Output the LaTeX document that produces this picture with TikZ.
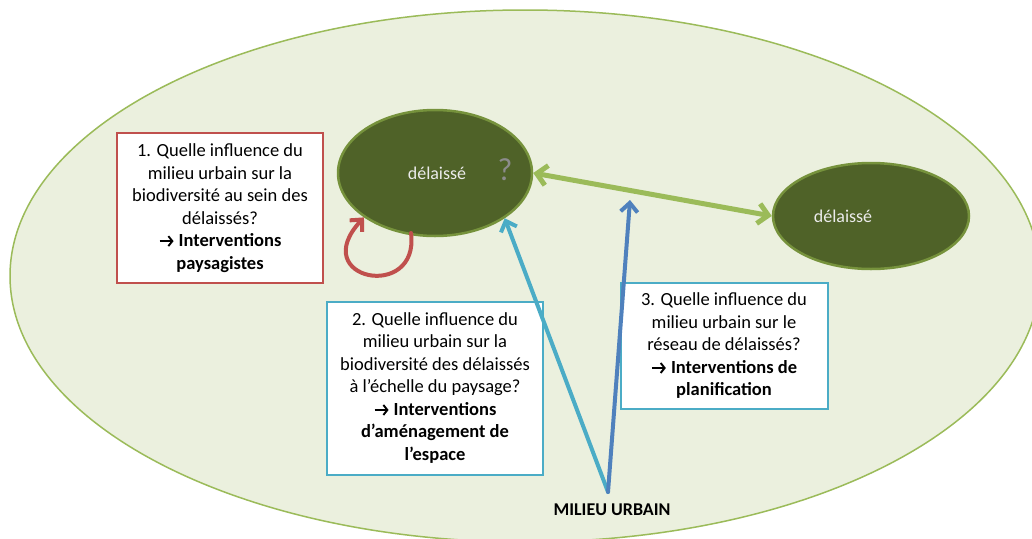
\documentclass[tikz,border=0pt]{standalone}
\usepackage{fontspec}
\setmainfont{Carlito}
\usetikzlibrary{arrows.meta,shapes.geometric}
\definecolor{bgfill}{HTML}{EBF0DE}
\definecolor{bgline}{HTML}{9BBB59}
\definecolor{dlfill}{HTML}{4F6228}
\definecolor{dlline}{HTML}{76923C}
\definecolor{redc}{HTML}{C0504D}
\definecolor{cyanc}{HTML}{4BACC6}
\definecolor{bluec}{HTML}{4F81BD}
\definecolor{greenc}{HTML}{9BBB59}
\definecolor{qgray}{HTML}{8C8C8C}
\newcommand{\arr}{\tikz[x=1pt,y=1pt,baseline=0pt]{\draw[black, line width=1.9pt, -{Straight Barb[length=4pt,width=10pt]}, line join=miter] (0,5.5) -- (14,5.5);}}
\tikzset{
  dlnode/.style={ellipse, draw=dlline, fill=dlfill, line width=2.5pt, inner sep=0pt},
  dltext/.style={text=white!92!black, font=\fontsize{18}{20}\selectfont},
  qbox/.style={draw, fill=white, line width=2pt, align=center, inner sep=0pt, font=\fontsize{18.5}{22.5}\selectfont},
  barb/.style={-{Straight Barb[length=9pt,width=17pt]}, line cap=round, line join=round},
}
\begin{document}
\begin{tikzpicture}[x=1pt,y=-1pt]
\useasboundingbox (0,0) rectangle (1032,538);
\fill[white] (0,0) rectangle (1032,538);
\draw[fill=bgfill, draw=bgline, line width=1.5pt] (525,276) ellipse [x radius=515, y radius=266];

\node[dlnode, minimum width=194pt, minimum height=126pt] (dl1) at (435,173) {};
\node[dltext] (t1) at (437,173) {délaissé};
\node[text=qgray, font=\fontsize{32}{34}\selectfont] (q) at (505,170) {?};
\node[dlnode, minimum width=196pt, minimum height=106pt] (dl2) at (871,216) {};
\node[dltext] (t2) at (843,216) {délaissé};

\node[qbox, draw=redc, minimum width=206pt, minimum height=150pt] (b1) at (220,208)
 {1. Quelle influence du\\ milieu urbain sur la\\ biodiversité au sein des\\ délaissés?\\ \arr\ \textbf{Interventions}\\ \textbf{paysagistes}};
\node[qbox, draw=cyanc, minimum width=216pt, minimum height=173pt] (b2) at (435,388)
 {2. Quelle influence du\\ milieu urbain sur la\\ biodiversité des délaissés\\ à l’échelle du paysage?\\ \arr\ \textbf{Interventions}\\ \textbf{d’aménagement de}\\ \textbf{l’espace}};
\node[qbox, draw=cyanc, minimum width=207pt, minimum height=126pt] (b3) at (724,346)
 {3. Quelle influence du\\ milieu urbain sur le\\ réseau de délaissés?\\ \arr\ \textbf{Interventions de}\\ \textbf{planification}};

\node[font=\bfseries\fontsize{18}{20}\selectfont] (mu) at (612,510) {MILIEU URBAIN};
\coordinate (src) at (608,492);
\coordinate (bt) at (630,200);

% green double arrow
\draw[greenc, line width=5pt, {Straight Barb[length=10pt,width=20pt]}-{Straight Barb[length=10pt,width=20pt]}, line cap=round, line join=round] (dl1.east) -- (dl2.west);
% cyan
\draw[cyanc, line width=4pt, barb] (src) -- (dl1.-33);
% blue
\draw[bluec, line width=4pt, barb] (src) -- (bt);
% red loop
\coordinate (rs) at (411,233);
\draw[redc, line width=4pt, barb] (rs) .. controls (420,302) and (306,280) .. (dl1.-148);
\end{tikzpicture}
\end{document}
